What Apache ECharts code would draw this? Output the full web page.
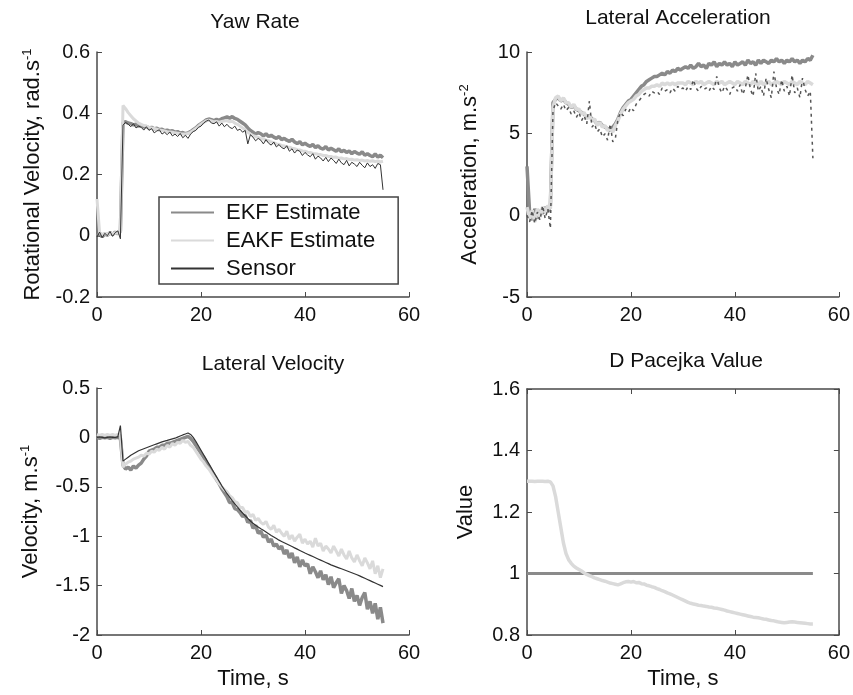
<!DOCTYPE html>
<html>
<head>
<meta charset="utf-8">
<script src="https://cdn.jsdelivr.net/npm/echarts@6/dist/echarts.min.js"></script>
<style>
  html, body { margin: 0; padding: 0; background: #fff; }
  #chart { width: 853px; height: 695px; }
</style>
</head>
<body>
<div id="chart"></div>
<script>
// Sample times (s), shared by every trace
const T = [0,0.5,1,1.5,2,2.5,3,3.5,4,4.5,5,5.5,6,6.5,7,7.5,8,8.5,9,9.5,10,10.5,11,11.5,12,12.5,13,13.5,14,14.5,15,15.5,16,16.5,17,17.5,18,18.5,19,19.5,20,20.5,21,21.5,22,22.5,23,23.5,24,24.5,25,25.5,26,26.5,27,27.5,28,28.5,29,29.5,30,30.5,31,31.5,32,32.5,33,33.5,34,34.5,35,35.5,36,36.5,37,37.5,38,38.5,39,39.5,40,40.5,41,41.5,42,42.5,43,43.5,44,44.5,45,45.5,46,46.5,47,47.5,48,48.5,49,49.5,50,50.5,51,51.5,52,52.5,53,53.5,54,54.5,55];

// Yaw rate (rad/s)
const yawEkf = [
  0.000,0.008,-0.004,0.006,0.002,0.010,0.004,0.012,0.006,0.015,
  0.370,0.372,0.368,0.366,0.362,0.364,0.358,0.360,0.355,0.357,
  0.352,0.354,0.349,0.351,0.346,0.348,0.343,0.345,0.341,0.343,
  0.338,0.340,0.335,0.337,0.333,0.336,0.340,0.346,0.352,0.360,
  0.366,0.372,0.378,0.381,0.379,0.376,0.380,0.377,0.382,0.385,
  0.388,0.384,0.389,0.383,0.380,0.374,0.368,0.362,0.352,0.344,
  0.338,0.332,0.337,0.333,0.326,0.333,0.324,0.328,0.322,0.318,
  0.324,0.314,0.318,0.312,0.308,0.315,0.306,0.301,0.307,0.297,
  0.302,0.296,0.292,0.298,0.288,0.294,0.286,0.283,0.291,0.280,
  0.286,0.281,0.276,0.284,0.274,0.279,0.272,0.277,0.268,0.275,
  0.270,0.266,0.274,0.263,0.268,0.262,0.258,0.267,0.257,0.263,
  0.255];
const yawEakf = [
  0.120,0.010,0.004,0.008,0.003,0.009,0.006,0.010,0.008,0.012,
  0.425,0.415,0.402,0.392,0.382,0.375,0.368,0.364,0.360,0.358,
  0.354,0.352,0.350,0.348,0.345,0.344,0.342,0.340,0.339,0.338,
  0.336,0.335,0.333,0.332,0.332,0.334,0.338,0.344,0.350,0.357,
  0.364,0.370,0.375,0.377,0.375,0.372,0.373,0.371,0.373,0.375,
  0.376,0.372,0.374,0.368,0.364,0.358,0.352,0.346,0.338,0.332,
  0.327,0.324,0.321,0.318,0.316,0.312,0.310,0.306,0.304,0.300,
  0.298,0.295,0.293,0.290,0.289,0.286,0.284,0.281,0.280,0.277,
  0.276,0.273,0.272,0.269,0.268,0.266,0.265,0.262,0.262,0.259,
  0.259,0.256,0.257,0.253,0.254,0.251,0.252,0.249,0.250,0.247,
  0.248,0.246,0.247,0.244,0.246,0.243,0.245,0.242,0.244,0.241,
  0.243];
const yawSensor = [
  -0.004,0.012,-0.006,0.008,0.000,0.014,-0.002,0.010,0.016,-0.010,
  0.362,0.370,0.364,0.356,0.366,0.352,0.358,0.354,0.345,0.356,
  0.344,0.350,0.336,0.342,0.346,0.332,0.338,0.330,0.339,0.326,
  0.332,0.324,0.334,0.320,0.328,0.318,0.332,0.340,0.344,0.354,
  0.358,0.368,0.374,0.378,0.368,0.366,0.372,0.358,0.368,0.356,
  0.364,0.354,0.350,0.358,0.344,0.348,0.338,0.344,0.300,0.330,
  0.322,0.310,0.318,0.312,0.300,0.314,0.302,0.296,0.306,0.290,
  0.298,0.288,0.284,0.294,0.276,0.284,0.270,0.280,0.276,0.262,
  0.272,0.264,0.258,0.268,0.250,0.260,0.254,0.244,0.256,0.242,
  0.254,0.246,0.236,0.250,0.238,0.232,0.246,0.228,0.240,0.234,
  0.226,0.240,0.230,0.222,0.238,0.226,0.232,0.220,0.236,0.232,
  0.150];

// Lateral acceleration (m/s^2)
const accEkf = [
  3.0,0.2,-0.3,0.4,-0.2,0.3,0.1,0.5,0.2,0.6,
  6.9,7.1,7.2,7.0,7.1,6.9,6.8,6.6,6.7,6.5,
  6.4,6.3,6.2,6.0,6.1,5.9,5.8,5.6,5.7,5.5,
  5.4,5.3,5.2,5.4,5.6,5.9,6.3,6.6,6.8,7.0,
  7.1,7.3,7.5,7.7,7.9,8.0,8.2,8.3,8.4,8.5,
  8.5,8.6,8.7,8.6,8.8,8.7,8.9,8.8,9.0,8.9,
  9.0,9.1,9.0,9.2,9.0,9.1,9.3,9.1,9.2,9.0,
  9.3,9.2,9.4,9.1,9.3,9.2,9.4,9.2,9.3,9.1,
  9.4,9.2,9.3,9.4,9.2,9.5,9.3,9.4,9.2,9.5,
  9.3,9.5,9.4,9.3,9.5,9.4,9.6,9.4,9.5,9.3,
  9.5,9.4,9.6,9.4,9.5,9.3,9.5,9.4,9.6,9.5,
  9.8];
const accEakf = [
  0.5,-0.2,0.3,-0.4,0.4,-0.1,0.5,0.2,0.6,0.4,
  6.6,7.2,7.3,7.0,7.2,6.9,6.9,6.6,6.8,6.5,
  6.5,6.2,6.3,5.9,6.1,5.8,5.9,5.5,5.7,5.4,
  5.5,5.2,5.3,5.1,5.5,5.8,6.2,6.5,6.7,6.9,
  7.0,7.1,7.3,7.4,7.6,7.7,7.8,7.8,7.9,7.9,
  8.0,7.9,8.1,8.0,8.1,8.0,8.1,8.0,8.1,8.1,
  8.1,8.0,8.2,8.1,8.0,8.2,8.1,8.2,8.0,8.1,
  8.2,8.1,8.0,8.2,8.1,8.2,8.0,8.1,8.2,8.1,
  8.0,8.2,8.1,8.0,8.2,8.1,8.0,8.2,8.1,8.0,
  8.2,8.0,8.1,8.2,8.0,8.1,8.2,8.1,8.0,8.2,
  8.1,8.0,8.2,8.1,8.0,8.2,8.1,8.0,8.2,8.1,
  8.0];
const accSensor = [
  0.0,-0.4,0.3,-0.5,0.2,-0.3,0.6,-0.2,0.4,-0.8,
  6.4,6.9,6.7,6.5,6.8,6.4,6.6,6.2,6.4,6.0,
  6.3,5.8,6.1,5.6,7.0,5.4,5.6,5.1,5.3,4.8,
  5.0,4.6,5.6,4.5,4.7,5.9,6.3,6.1,6.5,6.3,
  6.6,6.4,6.8,7.0,7.2,7.4,7.5,7.3,7.6,7.5,
  7.6,7.4,7.8,7.6,7.7,7.5,7.8,7.6,7.9,7.7,
  7.8,7.6,7.9,7.7,8.3,7.8,7.6,7.9,7.7,7.8,
  7.6,7.9,7.7,8.5,7.8,7.5,7.9,7.7,7.4,7.8,
  7.9,7.6,8.0,7.4,7.8,8.6,7.7,7.3,8.7,7.6,
  7.9,7.3,8.4,7.7,7.2,8.8,7.8,7.4,8.3,7.6,
  7.9,7.3,8.6,7.5,7.8,7.2,8.4,7.7,7.3,7.6,
  3.5];

// Lateral velocity (m/s)
const velEkf = [
  0.00,-0.01,0.00,-0.005,0.00,-0.01,0.00,-0.005,0.00,-0.01,
  -0.28,-0.32,-0.30,-0.33,-0.29,-0.31,-0.28,-0.26,-0.22,-0.19,
  -0.14,-0.13,-0.12,-0.10,-0.10,-0.08,-0.08,-0.06,-0.06,-0.05,
  -0.04,-0.03,-0.02,-0.01,0.00,0.01,-0.01,-0.04,-0.08,-0.12,
  -0.16,-0.20,-0.25,-0.29,-0.34,-0.38,-0.43,-0.47,-0.52,-0.56,
  -0.60,-0.66,-0.66,-0.72,-0.73,-0.76,-0.80,-0.79,-0.86,-0.84,
  -0.92,-0.89,-0.97,-0.95,-1.01,-0.99,-1.06,-1.03,-1.10,-1.08,
  -1.13,-1.10,-1.18,-1.14,-1.22,-1.17,-1.27,-1.21,-1.31,-1.24,
  -1.30,-1.28,-1.38,-1.31,-1.36,-1.42,-1.35,-1.44,-1.39,-1.49,
  -1.41,-1.52,-1.47,-1.43,-1.58,-1.50,-1.55,-1.63,-1.53,-1.66,
  -1.60,-1.70,-1.62,-1.57,-1.74,-1.66,-1.78,-1.68,-1.84,-1.72,
  -1.88];
const velEakf = [
  0.03,0.02,0.03,0.02,0.03,0.02,0.03,0.02,0.03,0.02,
  -0.30,-0.27,-0.25,-0.24,-0.22,-0.21,-0.20,-0.18,-0.19,-0.16,
  -0.17,-0.14,-0.15,-0.12,-0.13,-0.10,-0.12,-0.08,-0.10,-0.06,
  -0.08,-0.05,-0.06,-0.03,-0.05,-0.04,-0.08,-0.10,-0.14,-0.18,
  -0.22,-0.25,-0.29,-0.32,-0.36,-0.40,-0.43,-0.47,-0.50,-0.53,
  -0.55,-0.59,-0.61,-0.65,-0.66,-0.71,-0.71,-0.76,-0.75,-0.80,
  -0.78,-0.84,-0.82,-0.86,-0.88,-0.85,-0.91,-0.93,-0.89,-0.96,
  -0.93,-0.97,-1.00,-0.95,-1.03,-0.99,-1.05,-1.01,-0.98,-1.07,
  -1.03,-1.08,-1.05,-1.11,-1.02,-1.10,-1.07,-1.15,-1.10,-1.13,
  -1.17,-1.10,-1.15,-1.20,-1.13,-1.19,-1.23,-1.15,-1.22,-1.26,
  -1.19,-1.25,-1.30,-1.22,-1.27,-1.33,-1.25,-1.38,-1.30,-1.42,
  -1.33];
const velSensor = [
  0.000,0.005,0.000,-0.005,0.000,0.005,0.000,0.000,0.005,0.120,
  -0.240,-0.220,-0.200,-0.180,-0.165,-0.150,-0.135,-0.125,-0.115,-0.105,
  -0.095,-0.085,-0.075,-0.065,-0.055,-0.045,-0.037,-0.030,-0.022,-0.015,
  -0.008,0.003,0.014,0.025,0.035,0.045,0.030,0.000,-0.040,-0.085,
  -0.130,-0.175,-0.220,-0.265,-0.310,-0.355,-0.400,-0.445,-0.490,-0.530,
  -0.570,-0.605,-0.640,-0.672,-0.704,-0.735,-0.765,-0.793,-0.820,-0.846,
  -0.870,-0.888,-0.906,-0.924,-0.941,-0.958,-0.975,-0.992,-1.008,-1.024,
  -1.040,-1.053,-1.066,-1.079,-1.092,-1.105,-1.118,-1.131,-1.144,-1.157,
  -1.170,-1.182,-1.194,-1.206,-1.218,-1.230,-1.242,-1.254,-1.266,-1.278,
  -1.290,-1.300,-1.310,-1.320,-1.330,-1.340,-1.350,-1.360,-1.370,-1.380,
  -1.390,-1.402,-1.414,-1.426,-1.438,-1.450,-1.462,-1.474,-1.486,-1.498,
  -1.510];

// D Pacejka coefficient
const pacEkf = [
  1,1,1,1,1,1,1,1,1,1, 1,1,1,1,1,1,1,1,1,1, 1,1,1,1,1,1,1,1,1,1,
  1,1,1,1,1,1,1,1,1,1, 1,1,1,1,1,1,1,1,1,1, 1,1,1,1,1,1,1,1,1,1,
  1,1,1,1,1,1,1,1,1,1, 1,1,1,1,1,1,1,1,1,1, 1,1,1,1,1,1,1,1,1,1,
  1,1,1,1,1,1,1,1,1,1, 1,1,1,1,1,1,1,1,1,1, 1];
const pacEakf = [
  1.300,1.300,1.300,1.299,1.300,1.300,1.300,1.299,1.300,1.298,
  1.285,1.250,1.200,1.150,1.100,1.065,1.045,1.033,1.024,1.018,
  1.013,1.008,1.002,0.997,0.993,0.990,0.986,0.983,0.980,0.977,
  0.975,0.972,0.969,0.967,0.965,0.963,0.966,0.970,0.973,0.974,
  0.972,0.974,0.970,0.971,0.967,0.966,0.962,0.960,0.957,0.955,
  0.951,0.948,0.944,0.941,0.937,0.934,0.930,0.926,0.922,0.918,
  0.914,0.910,0.906,0.903,0.901,0.899,0.897,0.896,0.894,0.893,
  0.891,0.890,0.888,0.887,0.885,0.883,0.881,0.878,0.876,0.874,
  0.872,0.870,0.868,0.866,0.864,0.862,0.860,0.858,0.857,0.856,
  0.854,0.852,0.851,0.849,0.847,0.846,0.844,0.842,0.841,0.840,
  0.841,0.842,0.843,0.842,0.841,0.840,0.839,0.838,0.837,0.836,
  0.836];

const FONT = 'Liberation Sans, Arial, sans-serif';
const AXIS = '#4a4a4a';
const C_EKF = '#8a8a8a', C_EAKF = '#dadada', C_SENSOR = '#333333';

const pairs = vals => T.map((t, i) => [t, vals[i]]);

function xAxisFor(grid, withName) {
  return {
    type: 'value', gridIndex: grid, min: 0, max: 60, interval: 20,
    axisLine: { onZero: false, lineStyle: { color: AXIS, width: 1.5 } },
    axisTick: { inside: true, length: 5, lineStyle: { color: AXIS } },
    axisLabel: { fontFamily: FONT, fontSize: 20, color: '#111', margin: 8 },
    splitLine: { show: false },
    name: withName ? 'Time, s' : '', nameLocation: 'middle', nameGap: 33,
    nameTextStyle: { fontFamily: FONT, fontSize: 22, color: '#111' }
  };
}
function yAxisFor(grid, min, max, interval, base, sup, gap) {
  return {
    type: 'value', gridIndex: grid, min, max, interval,
    axisLine: { onZero: false, lineStyle: { color: AXIS, width: 1.5 } },
    axisTick: { inside: true, length: 5, lineStyle: { color: AXIS } },
    axisLabel: { fontFamily: FONT, fontSize: 20, color: '#111', margin: 7 },
    splitLine: { show: false },
    name: sup ? '{n|' + base + '}{s|' + sup + '}' : '{n|' + base + '}',
    nameLocation: 'middle', nameGap: gap,
    nameTextStyle: {
      rich: {
        n: { fontFamily: FONT, fontSize: 22, color: '#111', lineHeight: 24 },
        s: { fontFamily: FONT, fontSize: 13, color: '#111', verticalAlign: 'top', lineHeight: 24 }
      }
    }
  };
}
function line(name, grid, vals, color, width, extra) {
  return Object.assign({
    name, type: 'line', xAxisIndex: grid, yAxisIndex: grid,
    data: pairs(vals), symbol: 'none', showSymbol: false,
    lineStyle: { color, width }, itemStyle: { color },
    emphasis: { disabled: true }, animation: false
  }, extra || {});
}

const xAxes = [xAxisFor(0, false), xAxisFor(1, false), xAxisFor(2, true), xAxisFor(3, true)];
const yAxes = [
  yAxisFor(0, -0.2, 0.6, 0.2, 'Rotational Velocity, rad.s', '-1', 52),
  yAxisFor(1, -5, 10, 5, 'Acceleration, m.s', '-2', 45),
  yAxisFor(2, -2, 0.5, 0.5, 'Velocity, m.s', '-1', 54),
  yAxisFor(3, 0.8, 1.6, 0.2, 'Value', '', 49)
];
// box frame for the last panel: mirrored axes on top and right
xAxes.push({
  type: 'value', gridIndex: 3, position: 'top', min: 0, max: 60, interval: 20,
  axisLine: { onZero: false, lineStyle: { color: AXIS, width: 1.5 } },
  axisTick: { inside: true, length: 5, lineStyle: { color: AXIS } },
  axisLabel: { show: false }, splitLine: { show: false }
});
yAxes.push({
  type: 'value', gridIndex: 3, position: 'right', min: 0.8, max: 1.6, interval: 0.2,
  axisLine: { onZero: false, lineStyle: { color: AXIS, width: 1.5 } },
  axisTick: { inside: true, length: 5, lineStyle: { color: AXIS } },
  axisLabel: { show: false }, splitLine: { show: false }
});

const titleStyle = { fontFamily: FONT, fontSize: 21, fontWeight: 'normal', color: '#111' };

const option = {
  backgroundColor: '#fff',
  animation: false,
  title: [
    { text: 'Yaw Rate', left: 255, top: 12, textAlign: 'center', padding: 0, textStyle: titleStyle },
    { text: 'Lateral Acceleration', left: 678, top: 8, textAlign: 'center', padding: 0, textStyle: titleStyle },
    { text: 'Lateral Velocity', left: 273, top: 354, textAlign: 'center', padding: 0, textStyle: titleStyle },
    { text: 'D Pacejka Value', left: 686, top: 351, textAlign: 'center', padding: 0, textStyle: titleStyle }
  ],
  grid: [
    { left: 97, top: 52, width: 312, height: 245 },
    { left: 527, top: 52, width: 312, height: 245 },
    { left: 97, top: 388, width: 312, height: 247 },
    { left: 527, top: 389, width: 312, height: 246 }
  ],
  legend: {
    data: ['EKF Estimate', 'EAKF Estimate', 'Sensor'],
    orient: 'vertical', left: 159, top: 197,
    padding: [4, 23, 4, 11], itemGap: 5, itemWidth: 43, itemHeight: 14,
    borderColor: '#444', borderWidth: 1.5, backgroundColor: '#fff',
    selectedMode: false,
    itemStyle: { opacity: 0 },
    textStyle: { fontFamily: FONT, fontSize: 22, color: '#111', lineHeight: 23, padding: [0, 0, 0, 7] }
  },
  xAxis: xAxes,
  yAxis: yAxes,
  series: [
    line('EKF Estimate', 0, yawEkf, C_EKF, 3.5),
    line('EAKF Estimate', 0, yawEakf, C_EAKF, 3),
    line('Sensor', 0, yawSensor, C_SENSOR, 1),

    line('EKF Estimate', 1, accEkf, C_EKF, 3.5),
    line('EAKF Estimate', 1, accEakf, C_EAKF, 3.5),
    line('Sensor', 1, accSensor, '#555', 1.5, { lineStyle: { color: '#555', width: 1.5, type: [3, 4] } }),

    line('EKF Estimate', 2, velEkf, C_EKF, 3.5),
    line('EAKF Estimate', 2, velEakf, C_EAKF, 3),
    line('Sensor', 2, velSensor, C_SENSOR, 1.2),

    line('EKF Estimate', 3, pacEkf, C_EKF, 3),
    line('EAKF Estimate', 3, pacEakf, C_EAKF, 3.5)
  ]
};

const chart = echarts.init(document.getElementById('chart'), null, { renderer: 'canvas' });
chart.setOption(option);
</script>
</body>
</html>
